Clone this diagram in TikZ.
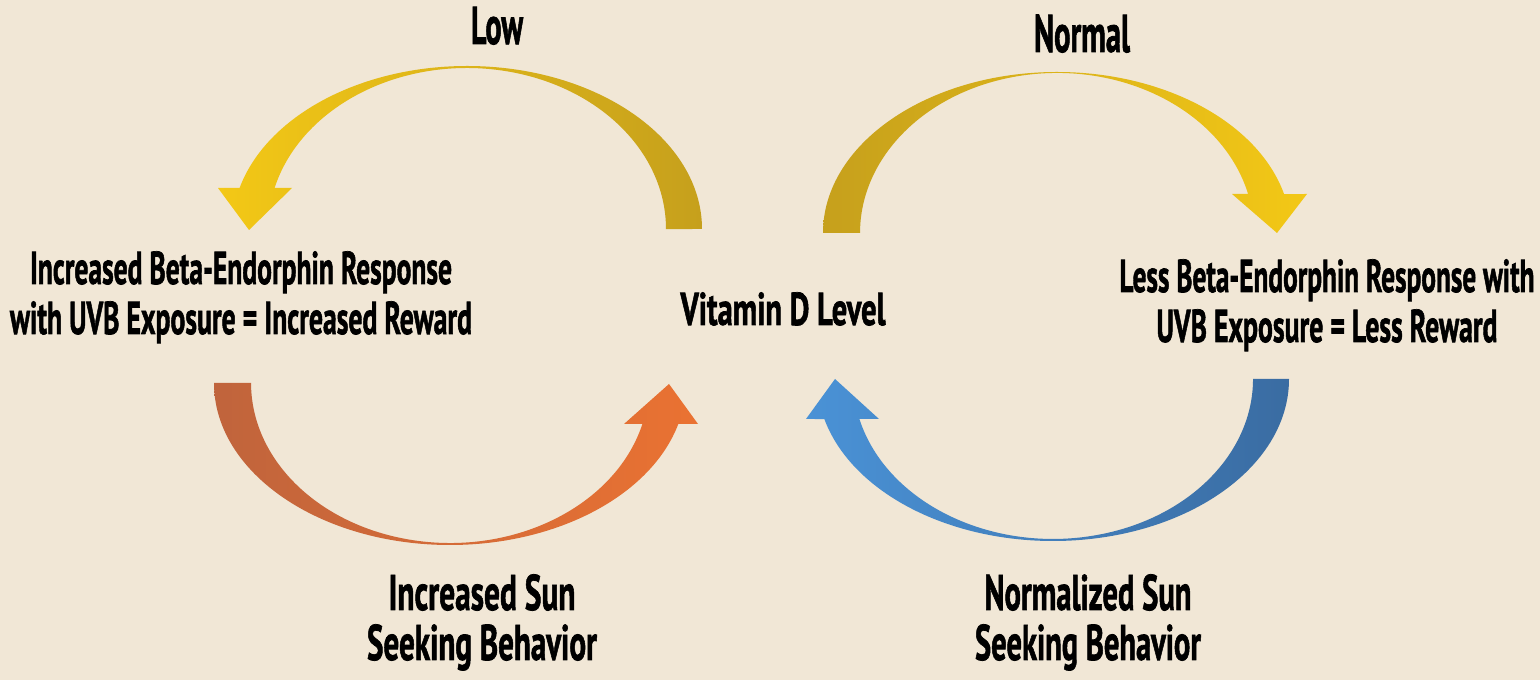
\documentclass[tikz,border=0pt]{standalone}
\usepackage{fontspec}
\setmainfont{PT Sans}[BoldFeatures={FakeBold=1.6}]
\usepackage{graphicx}
\newcommand\fitline[2]{\resizebox{#1}{\height}{#2}}
\definecolor{bg}{RGB}{241,231,214}
\definecolor{yelA}{RGB}{243,200,22}
\definecolor{yelB}{RGB}{198,160,28}
\definecolor{orA}{RGB}{192,100,60}
\definecolor{orB}{RGB}{234,114,50}
\definecolor{blA}{RGB}{74,146,214}
\definecolor{blB}{RGB}{58,108,162}
\tikzset{
  lbl/.style={inner sep=0pt, anchor=base, align=center, text=black},
  big/.style={font=\bfseries\fontsize{53}{56}\selectfont},
  mid/.style={font=\bfseries\fontsize{46}{50}\selectfont},
  bot/.style={font=\bfseries\fontsize{50}{50}\selectfont},
  curvearrow/.style={draw=none}
}
\begin{document}
\begin{tikzpicture}[x=1pt,y=1pt]
\fill[bg] (0,0) rectangle (1540,680);
\useasboundingbox (0,0) rectangle (1540,680);

% labels (base anchor = baseline of the last line)
\node[lbl,big] (low) at (497,636) {\fitline{52pt}{Low}};
\node[lbl,big] (normal) at (1082,628) {\fitline{96pt}{Normal}};
\node[lbl,mid] (vitd) at (783,355) {\fitline{205pt}{Vitamin D Level}};
\node[lbl,mid] (incbeta) at (241,346) {\fitline{422pt}{Increased Beta-Endorphin Response}\\\fitline{462pt}{with UVB Exposure = Increased Reward}};
\node[lbl,mid] (lessbeta) at (1327,338) {\fitline{415pt}{Less Beta-Endorphin Response with}\\\fitline{341pt}{UVB Exposure = Less Reward}};
\node[lbl,bot] (incsun) at (482,20) {\fitline{187pt}{Increased Sun}\\\fitline{230pt}{Seeking Behavior}};
\node[lbl,bot] (normsun) at (1088,20) {\fitline{207pt}{Normalized Sun}\\\fitline{226pt}{Seeking Behavior}};

% centres of the curved arrows
\coordinate (cLow) at (467,451);
\coordinate (cNorm) at (1057,447);
\coordinate (cInc) at (450,297);
\coordinate (cNsun) at (1053,301);

% Low arrow: Vitamin D -> increased beta-endorphin
\shade[curvearrow, left color=yelA, right color=yelB]
  ([xshift=235pt]cLow) arc[start angle=0, end angle=165.4, x radius=235, y radius=163]
  -- (218,492) -- (249,450) -- (292,492) -- (274.6,492.1)
  arc[start angle=165.2, end angle=0, x radius=199, y radius=161] -- cycle;

% Normal arrow: Vitamin D -> less beta-endorphin
\shade[curvearrow, left color=yelB, right color=yelA]
  ([xshift=-234pt]cNorm) arc[start angle=180, end angle=14.0, x radius=234, y radius=161]
  -- (1307,486) -- (1277,447) -- (1232,486) -- (1248.1,486)
  arc[start angle=14.1, end angle=180, x radius=197, y radius=160] -- cycle;

% Orange arrow: increased beta-endorphin -> Vitamin D
\shade[curvearrow, left color=orA, right color=orB]
  ([xshift=-236pt]cInc) arc[start angle=180, end angle=345.34, x radius=236, y radius=162]
  -- (698,256) -- (669,296) -- (624,256) -- (642.4,256)
  arc[start angle=345.15, end angle=180, x radius=199, y radius=160] -- cycle;

% Blue arrow: less beta-endorphin -> Vitamin D
\shade[curvearrow, left color=blA, right color=blB]
  ([xshift=236pt]cNsun) arc[start angle=360, end angle=194.3, x radius=236, y radius=162]
  -- (806,261) -- (835,301) -- (879,261) -- (859.4,261)
  arc[start angle=194.5, end angle=360, x radius=200, y radius=160] -- cycle;
\end{tikzpicture}
\end{document}
